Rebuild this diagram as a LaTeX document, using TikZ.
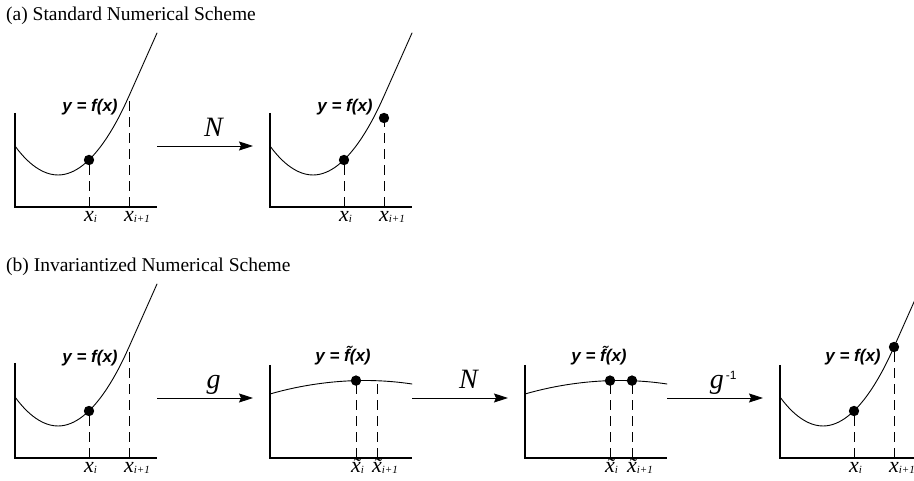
\documentclass[tikz,border=0pt]{standalone}
\usepackage{fontspec}
\setmainfont{Liberation Serif}
\setsansfont{Liberation Sans}
\usetikzlibrary{arrows.meta,positioning,calc}
\tikzset{
  axisln/.style={line width=1.2pt},
  curveln/.style={line width=0.9pt, line cap=round, line join=round},
  projln/.style={dash pattern=on 10pt off 6pt, line width=0.9pt},
  mapln/.style={-{Stealth[length=14pt,width=9pt,inset=2pt]}, line width=0.9pt, shorten >=17pt},
  fnlbl/.style={font=\fontsize{17}{17}\sffamily\bfseries\itshape, inner sep=0pt},
  xlbl/.style={font=\fontsize{22}{22}\selectfont\itshape, anchor=base, inner sep=0pt, yshift=-15pt},
  maplbl/.style={font=\fontsize{28}{28}\selectfont\itshape, anchor=base, inner sep=0pt, yshift=9pt},
  ttl/.style={font=\fontsize{19.5}{19.5}\selectfont, anchor=base west, inner sep=0pt},
}
\newcommand{\solpt}[1]{\fill #1 circle (5.2);}
\newcommand{\xsub}[2]{#1\rlap{\raisebox{-1pt}{\fontsize{11}{11}\selectfont #2}}}
\newcommand{\steepfn}{\draw[curveln] (0,61) parabola bend (43,32) (114,111) -- (142,174);}
\newcommand{\flatfn}{\draw[curveln] (0,64) parabola bend (95,77.5) (142,74);}

\begin{document}
\begin{tikzpicture}[x=1pt,y=1pt]
    \useasboundingbox (0,0) rectangle (914,481);
    \node[ttl] (ttla) at (6,460) {(a) Standard Numerical Scheme};
    \node[ttl] (ttlb) at (6,209) {(b) Invariantized Numerical Scheme};
    % --- (a) before step ---
    \begin{scope}[shift={(15,274)}]
      \draw[axisln] (0,94) |- (142,0);
      \steepfn
      \draw[projln] (74,0) -- (74,47);
      \draw[projln] (114,0) -- (114,111);
      \solpt{(74,47)}
      \node[fnlbl] (fa1) at (75,100) {y = f(x)};
      \node[xlbl] (xa1) at (74,0) {\xsub{x}{i}};
      \node[xlbl] (ya1) at (114,0) {\xsub{x}{i+1}};
      \coordinate (a1e) at (142,61);
    \end{scope}
    % --- (a) after step ---
    \begin{scope}[shift={(270,274)}]
      \draw[axisln] (0,94) |- (142,0);
      \steepfn
      \draw[projln] (74,0) -- (74,47);
      \draw[projln] (114,0) -- (114,89);
      \solpt{(74,47)}
      \solpt{(114,89)}
      \node[fnlbl] (fa2) at (75,100) {y = f(x)};
      \node[xlbl] (xa2) at (74,0) {\xsub{x}{i}};
      \node[xlbl] (ya2) at (114,0) {\xsub{x}{i+1}};
      \coordinate (a2w) at (0,61);
    \end{scope}
    \draw[mapln] (a1e) -- (a2w) node[maplbl, midway] (mapNa) {N};
    % --- (b) original ---
    \begin{scope}[shift={(15,23)}]
      \draw[axisln] (0,95) |- (142,0);
      \steepfn
      \draw[projln] (74,0) -- (74,47);
      \draw[projln] (114,0) -- (114,111);
      \solpt{(74,47)}
      \node[fnlbl] (fb1) at (75,100) {y = f(x)};
      \node[xlbl] (xb1) at (74,0) {\xsub{x}{i}};
      \node[xlbl] (yb1) at (114,0) {\xsub{x}{i+1}};
      \coordinate (b1e) at (142,60);
    \end{scope}
    % --- (b) normalized ---
    \begin{scope}[shift={(270,23)}]
      \draw[axisln] (0,93) |- (142,0);
      \flatfn
      \draw[projln] (86,0) -- (86,77);
      \draw[projln] (107,0) -- (107,77);
      \solpt{(86,77.4)}
      \node[fnlbl] (fb2) at (73,102) {y = \~{f}(x)};
      \node[xlbl] (xb2) at (86,0) {\xsub{\~{x}}{i}};
      \node[xlbl] (yb2) at (107,0) {\xsub{\~{x}}{i+1}};
      \coordinate (b2w) at (0,60);
      \coordinate (b2e) at (142,60);
    \end{scope}
    \draw[mapln] (b1e) -- (b2w) node[maplbl, midway] (mapg) {g};
    % --- (b) normalized, stepped ---
    \begin{scope}[shift={(525,23)}]
      \draw[axisln] (0,93) |- (142,0);
      \flatfn
      \draw[projln] (85,0) -- (85,77);
      \draw[projln] (107,0) -- (107,77);
      \solpt{(85,77.4)}
      \solpt{(107,77.4)}
      \node[fnlbl] (fb3) at (74,102) {y = \~{f}(x)};
      \node[xlbl] (xb3) at (85,0) {\xsub{\~{x}}{i}};
      \node[xlbl] (yb3) at (107,0) {\xsub{\~{x}}{i+1}};
      \coordinate (b3w) at (0,60);
      \coordinate (b3e) at (142,60);
    \end{scope}
    \draw[mapln] (b2e) -- (b3w) node[maplbl, midway] (mapNb) {N};
    % --- (b) mapped back ---
    \begin{scope}[shift={(780,23)}]
      \draw[axisln] (0,93) |- (142,0);
      \steepfn
      \draw[projln] (74,0) -- (74,47);
      \draw[projln] (114,0) -- (114,111);
      \solpt{(74,47)}
      \solpt{(114,111)}
      \node[fnlbl] (fb4) at (73,101) {y = f(x)};
      \node[xlbl] (xb4) at (74,0) {\xsub{x}{i}};
      \node[xlbl] (yb4) at (114,0) {\xsub{x}{i+1}};
      \coordinate (b4w) at (0,60);
    \end{scope}
    \draw[mapln] (b3e) -- (b4w) node[maplbl, midway] (mapgi)
      {g\textsuperscript{\fontsize{12}{12}\sffamily\upshape\,-1}};
  \end{tikzpicture}
\end{document}
